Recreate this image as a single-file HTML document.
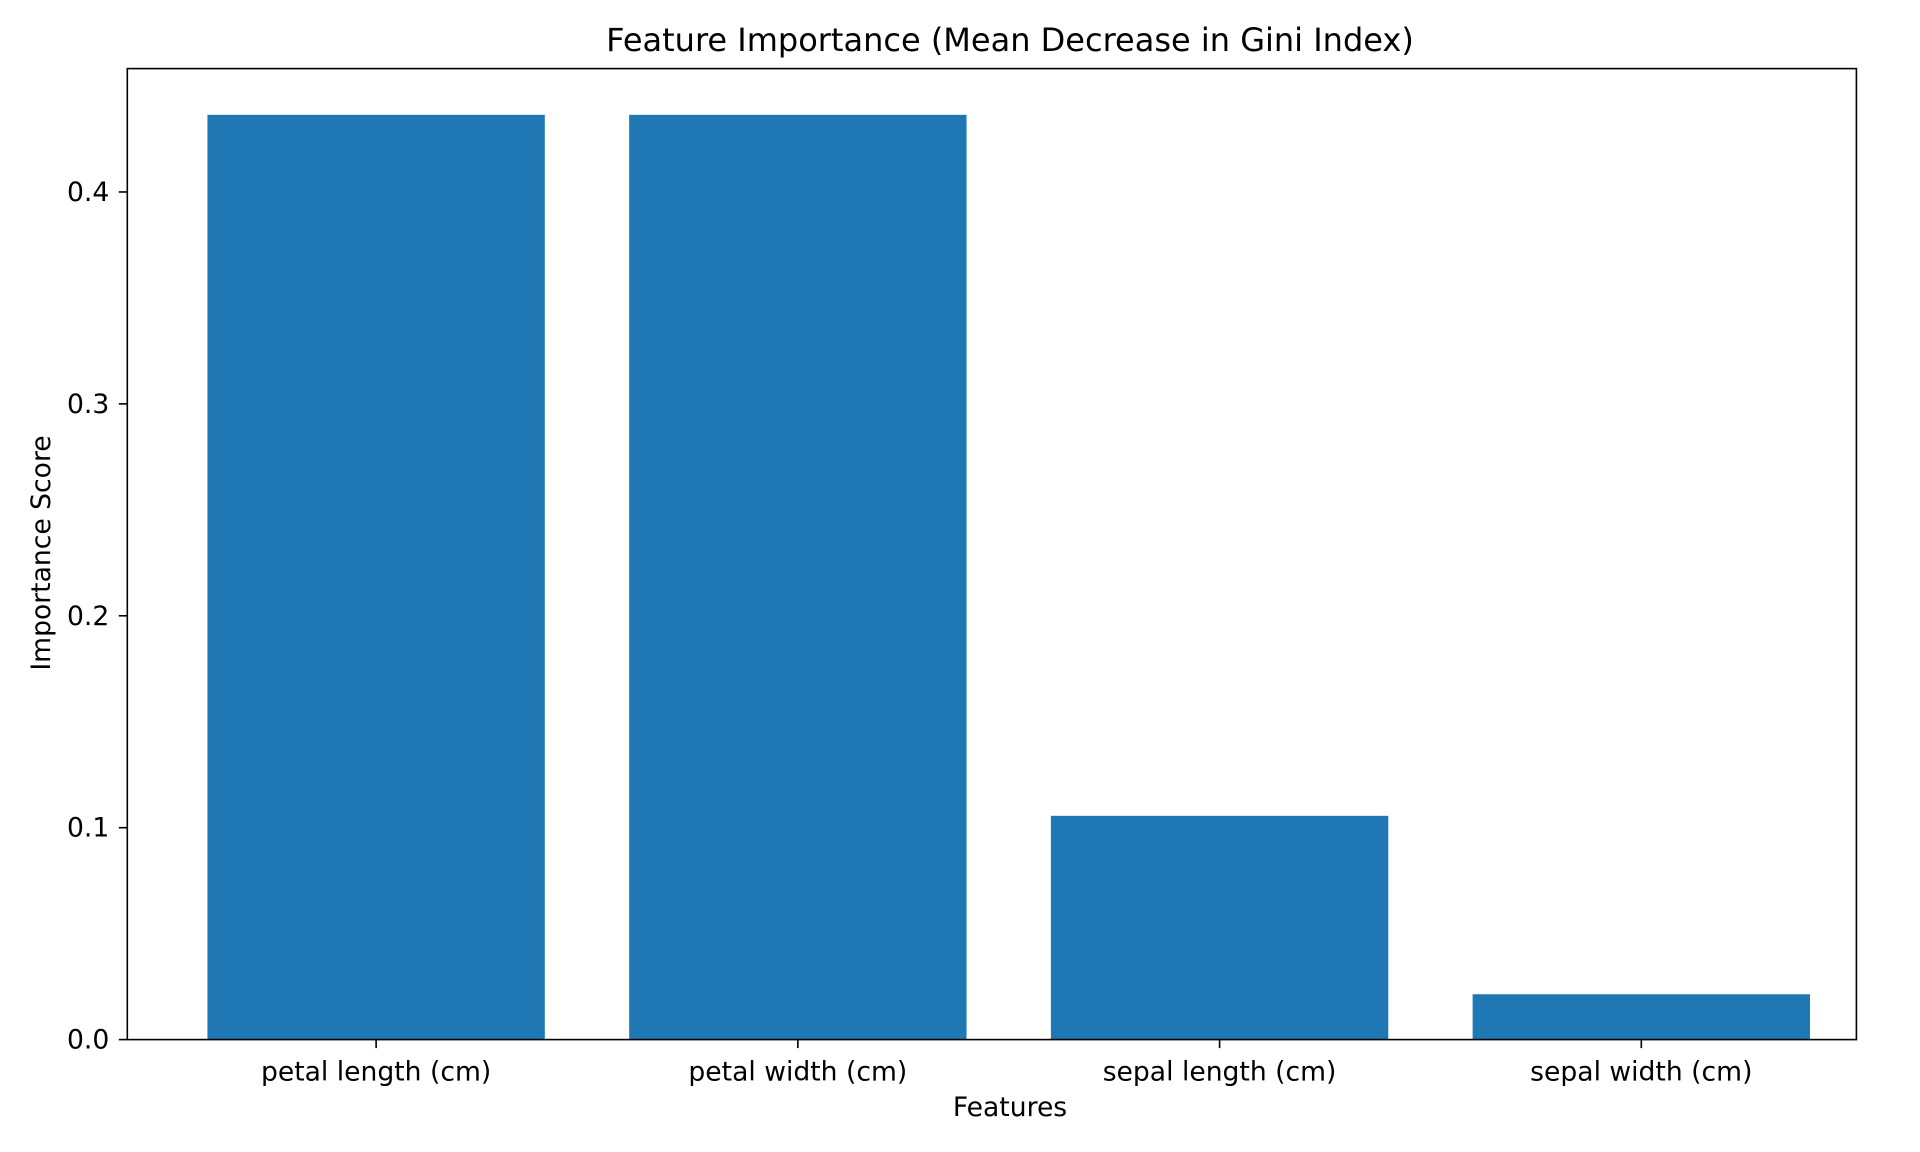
<!DOCTYPE html>
<html><head><meta charset="utf-8"><style>
html,body{margin:0;padding:0;background:#fff;}
svg{display:block;font-family:"DejaVu Sans","Liberation Sans",sans-serif;}
</style></head><body>
<svg id="chart" width="1920" height="1152" viewBox="0 0 1920 1152">
<text x="1010" y="51" font-size="32" text-anchor="middle" fill="#000">Feature Importance (Mean Decrease in Gini Index)</text>
<g id="bars"></g>
<g id="yticks"></g>
<g id="xticks"></g>
<rect x="127.3" y="68.6" width="1729.1" height="971" fill="none" stroke="#000" stroke-width="1.6"/>
<text x="1010" y="1116" font-size="26.6" text-anchor="middle">Features</text>
<text transform="translate(50,553) rotate(-90)" font-size="26.6" text-anchor="middle">Importance Score</text>
</svg>
<script>
const categories = ["petal length (cm)", "petal width (cm)", "sepal length (cm)", "sepal width (cm)"];
const importance = [0.4364, 0.4364, 0.1056, 0.0214];
const yTicks = [0.0, 0.1, 0.2, 0.3, 0.4];
const yTickLabels = ["0.0", "0.1", "0.2", "0.3", "0.4"];

const L = 127.3, R = 1856.4, T = 68.6, B = 1039.6;
const xMin = -0.59, xMax = categories.length - 1 + 0.51;
const yMax = Math.max(...importance) * 1.05;
const xs = v => L + (v - xMin) / (xMax - xMin) * (R - L);
const ys = v => B - v / yMax * (B - T);
const NS = "http://www.w3.org/2000/svg";
const bars = document.getElementById('bars');
const xt = document.getElementById('xticks');
const yt = document.getElementById('yticks');
const bw = 0.8;
importance.forEach((v, i) => {
  const r = document.createElementNS(NS, 'rect');
  r.setAttribute('x', xs(i - bw / 2));
  r.setAttribute('width', xs(i + bw / 2) - xs(i - bw / 2));
  r.setAttribute('y', ys(v));
  r.setAttribute('height', B - ys(v));
  r.setAttribute('fill', '#1f77b4');
  
  
  bars.appendChild(r);
  const tk = document.createElementNS(NS, 'line');
  tk.setAttribute('x1', xs(i)); tk.setAttribute('x2', xs(i));
  tk.setAttribute('y1', B); tk.setAttribute('y2', B + 8.5);
  tk.setAttribute('stroke', '#000'); tk.setAttribute('stroke-width', '1.6');
  
  
  xt.appendChild(tk);
  const t = document.createElementNS(NS, 'text');
  t.setAttribute('x', xs(i)); t.setAttribute('y', B + 41);
  t.setAttribute('font-size', '26.6'); t.setAttribute('text-anchor', 'middle');
  t.textContent = categories[i];
  
  
  xt.appendChild(t);
});
yTicks.forEach((v, i) => {
  const tk = document.createElementNS(NS, 'line');
  tk.setAttribute('x1', L - 8.5); tk.setAttribute('x2', L);
  tk.setAttribute('y1', ys(v)); tk.setAttribute('y2', ys(v));
  tk.setAttribute('stroke', '#000'); tk.setAttribute('stroke-width', '1.6');
  
  
  yt.appendChild(tk);
  const t = document.createElementNS(NS, 'text');
  t.setAttribute('x', L - 18); t.setAttribute('y', ys(v) + 9);
  t.setAttribute('font-size', '26.6'); t.setAttribute('text-anchor', 'end');
  t.textContent = yTickLabels[i];
  
  
  yt.appendChild(t);
});
</script>
</body></html>
